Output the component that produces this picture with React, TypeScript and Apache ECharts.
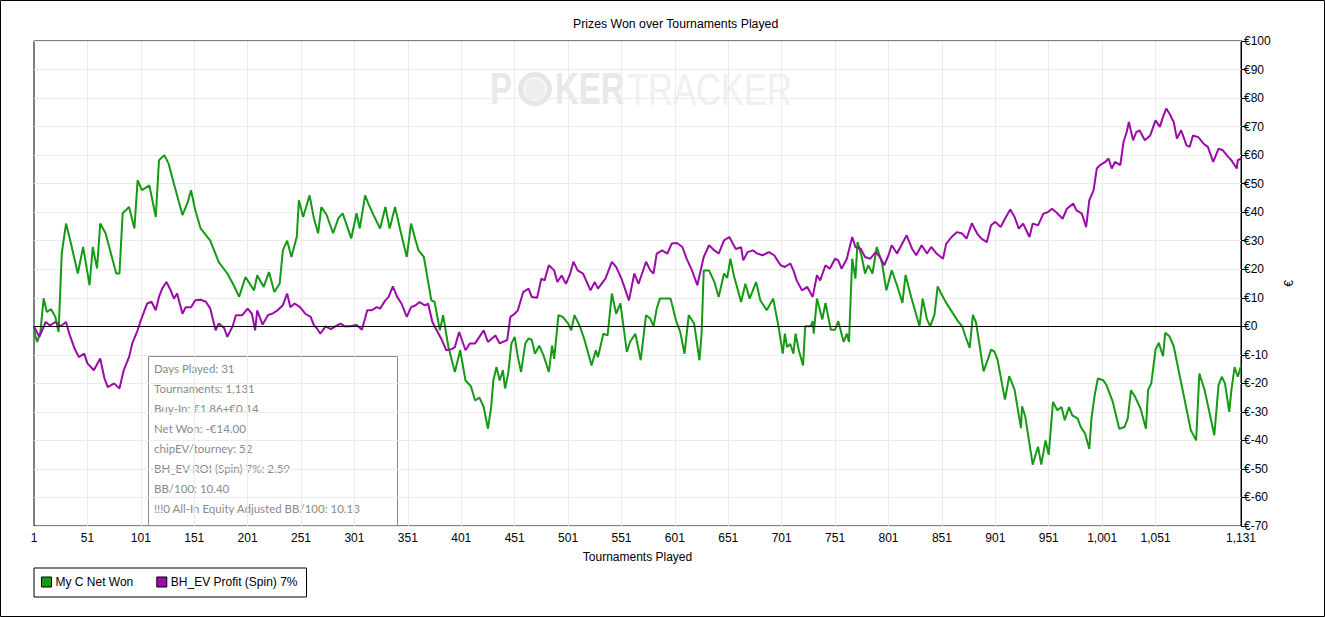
import React, { useEffect, useRef } from "react";
import * as echarts from "echarts";

const titleText = "Prizes Won over Tournaments Played";
const xAxisName = "Tournaments Played";
const yAxisName = "€";
const totalTournaments = 1131;

// [tournament number, € value]
const netWon: [number, number][] = [
  [1, 0], [2, -3], [4, -5.5], [7, -2], [10, 9.8], [13, 5], [17, 6], [21, 3.3], [24, -2], [27, 25.6], [31, 36], [35, 30],
  [42, 18.5], [47, 27.8], [53, 14.4], [56, 27.8], [60, 20.3], [63, 36], [68, 32.6], [78, 18.5], [81, 18.5], [84, 39.6],
  [90, 41.8], [95, 34.3], [98, 51.2], [102, 47.7], [109, 49.4], [115, 38.3], [118, 58.2], [123, 60], [127, 57], [132, 50],
  [140, 39], [145, 43.6], [148, 47.7], [152, 40.7], [157, 34.3], [166, 30], [174, 22.5], [182, 18.5], [188, 14.4],
  [193, 10.3], [199, 17.3], [207, 12.6], [210, 17.9], [216, 13.8], [221, 19], [226, 12], [231, 15], [234, 26.6],
  [238, 30], [242, 24.3], [247, 31.3], [249, 44.2], [253, 38.3], [259, 45.9], [263, 37.9], [267, 32.6], [270, 41.8],
  [275, 39], [281, 32.6], [286, 37.9], [290, 39.6], [298, 30.8], [303, 39.6], [306, 34.3], [311, 45.9], [314, 43],
  [319, 38.9], [325, 34.3], [330, 41.8], [334, 34.3], [339, 41.8], [344, 33.6], [350, 24.3], [354, 36], [358, 30.4],
  [361, 26.6], [366, 24.3], [373, 9.1], [376, 8.6], [381, -1.4], [384, 3.9], [389, -7.3], [395, -16], [400, -8.4],
  [405, -19], [410, -21], [414, -26], [418, -25], [422, -28.3], [426, -35.9], [429, -28.3], [431, -19], [434, -14.3],
  [437, -19], [440, -15.4], [442, -21.8], [445, -16.4], [448, -6], [451, -3.7], [454, -10.8], [457, -16], [461, -6],
  [464, -4.3], [467, -4.7], [470, -9.6], [474, -6.8], [478, -10.2], [480, -12.5], [483, -16], [486, -6.8], [488, -11.4],
  [492, 3.9], [496, 3.3], [501, 1], [504, -1.4], [507, 3.9], [512, 0], [516, -4.3], [523, -13.7], [527, -8.4],
  [529, -10.8], [534, -2.6], [538, -3.2], [542, 11.5], [546, 4.4], [550, 8], [556, -9], [559, -5.5], [564, -2.6],
  [569, -11.9], [574, 3.9], [578, 2.7], [581, 0], [584, 6.2], [587, 9.7], [597, 9.7], [602, 2.1], [606, -2], [610, -9.6],
  [614, 3.9], [619, 1], [624, -11.9], [626, -2.6], [628, 19.6], [633, 19.6], [638, 15.5], [642, 10.3], [647, 18.5],
  [650, 17], [653, 23.7], [656, 18.1], [663, 8.5], [667, 14.9], [671, 9.7], [677, 15.5], [681, 9.1], [687, 5.6],
  [693, 9.7], [698, 0], [702, -9.6], [704, -2.6], [706, -7.3], [709, -6.2], [712, -9.6], [714, -2.6], [717, -8.4],
  [721, -13.7], [723, 0], [728, 0], [730, 1.8], [731, -2.6], [734, 9.7], [739, 2.4], [742, 8.2], [747, -1.2], [751, -1.2],
  [754, 1.8], [759, -5.5], [762, -2.6], [764, -5.5], [767, 23.7], [770, 16.7], [772, 29.5], [776, 24.3], [779, 18.5],
  [782, 21.4], [786, 18.5], [790, 27.8], [795, 22], [799, 12.6], [804, 19.6], [809, 14.3], [814, 8.2], [817, 18],
  [822, 10.5], [830, 0], [833, 9.7], [837, 2.4], [840, 0], [844, 4], [847, 14], [850, 11.7], [855, 8.2], [861, 4.7],
  [866, 1.8], [870, 0], [873, -3.5], [877, -7.6], [880, 4], [883, 1.2], [890, -15.8], [894, -11.6], [897, -8.2],
  [900, -8.8], [903, -11.6], [910, -25.7], [914, -17.5], [919, -22.2], [925, -35.7], [926, -28], [929, -31.6],
  [936, -48.5], [939, -44.6], [941, -42.2], [944, -48.5], [948, -40], [951, -45], [955, -26.5], [959, -29.4],
  [963, -28.3], [966, -32.9], [970, -28.3], [973, -31.2], [978, -32.3], [981, -35.3], [985, -37.6], [989, -43],
  [991, -32.3], [994, -24.2], [997, -18.3], [1002, -18.9], [1005, -20.6], [1011, -26.5], [1017, -35.9], [1022, -35.3],
  [1025, -32.3], [1028, -22.4], [1032, -24.8], [1037, -28.9], [1042, -35.9], [1044, -22.4], [1047, -20], [1051, -8.2],
  [1054, -5.8], [1058, -10.5], [1060, -2.3], [1064, -3.5], [1068, -7], [1084, -36.4], [1089, -40], [1092, -16.6],
  [1097, -22.4], [1106, -38.2], [1110, -20.6], [1113, -17.7], [1116, -20], [1120, -30], [1122, -22.4], [1125, -14.3],
  [1128, -17.7], [1131, -14],
];

const bhEvProfit: [number, number][] = [
  [1, 0], [6, -3.7], [12, 1.5], [16, 0.3], [21, 1.5], [26, 0], [31, 1.5], [34, -2.6], [39, -7.8], [43, -10.8],
  [48, -9.6], [51, -13], [57, -15.4], [63, -11.3], [67, -18.3], [70, -21.3], [76, -20], [81, -21.8], [85, -15.4],
  [90, -10.8], [93, -6], [98, -1.4], [101, 2.1], [107, 8], [111, 8.6], [115, 5.6], [118, 10.3], [121, 13.2], [125, 15.5],
  [129, 12.6], [132, 9.7], [135, 11.5], [140, 4.4], [143, 6.7], [148, 6.7], [152, 9.1], [157, 9.3], [162, 8.6],
  [166, 6.2], [171, -1.4], [174, 1], [179, -0.6], [182, -3.7], [187, 0], [190, 3.9], [196, 3.9], [201, 6.2], [205, 4.4],
  [208, -1.4], [210, 5.6], [215, 0.6], [220, 3.9], [224, 4.4], [229, 5.6], [234, 7.4], [238, 11.5], [241, 6.7],
  [245, 8], [250, 6.7], [255, 4.4], [260, 3.3], [263, 0.4], [266, -0.8], [269, -2.6], [274, 0], [279, -1], [283, 0],
  [288, 0.9], [292, 0], [297, 0], [303, 0.5], [308, -1.2], [313, 5.6], [317, 5.6], [322, 6.7], [325, 6.2], [330, 9.1],
  [333, 10.3], [337, 14], [341, 10.3], [345, 8], [350, 3.3], [354, 6.7], [358, 7.3], [362, 8.5], [367, 7.3], [370, 7.9],
  [374, 1.5], [378, -1.4], [383, -4.9], [387, -8.4], [392, -8], [395, -7.3], [399, -2], [405, -8.4], [409, -6],
  [414, -6], [418, -3.7], [422, -1.4], [426, -5.5], [433, -3.2], [437, -6], [444, -4.8], [447, 3.3], [451, 4.4],
  [454, 5.6], [459, 12], [464, 13.2], [467, 10.3], [472, 10], [476, 16.7], [479, 16.1], [483, 21.4], [488, 19.6],
  [491, 15.5], [495, 17.8], [499, 14.9], [503, 18.5], [506, 22.6], [510, 19.6], [515, 18.5], [522, 12.6], [526, 15.5],
  [529, 13.2], [536, 16.7], [542, 22.6], [546, 20.8], [551, 16.7], [558, 9.1], [563, 18.5], [567, 14.9], [574, 22.6],
  [578, 19.6], [581, 18.5], [584, 25.5], [589, 26.6], [594, 25.5], [598, 29], [603, 29.2], [608, 27.8], [612, 23.7],
  [617, 19.6], [622, 14.4], [628, 24.3], [633, 28.4], [638, 26.6], [642, 25.5], [647, 30.1], [652, 31.3], [658, 27.1],
  [663, 27.7], [665, 23.1], [669, 26], [674, 26.6], [678, 25.5], [683, 24.9], [689, 26], [694, 24.9], [697, 23.1],
  [700, 21.4], [704, 20.8], [709, 22], [712, 19.6], [715, 16.1], [720, 12.6], [725, 13.8], [730, 10.3], [734, 17.9],
  [737, 16.1], [742, 21.4], [746, 20.2], [751, 23.7], [754, 23.1], [757, 20.2], [762, 23.7], [767, 31.3], [770, 27.8],
  [775, 27.2], [779, 24.3], [784, 23.7], [789, 26], [793, 24.3], [797, 21.4], [801, 24.9], [804, 28.4], [809, 25.5],
  [813, 28.4], [818, 31.9], [823, 27.2], [827, 24.9], [832, 28.4], [837, 25.5], [841, 27.8], [846, 25.5], [852, 23.7],
  [855, 28.9], [860, 31.3], [865, 33], [870, 32.5], [874, 30.7], [879, 36.1], [884, 32.5], [888, 30.7], [893, 29.5],
  [897, 35.4], [901, 36.6], [906, 34.8], [910, 37.7], [915, 40.9], [919, 38.3], [923, 34.2], [927, 36], [933, 31.3],
  [936, 36], [941, 35.4], [946, 39.5], [950, 40], [954, 41.2], [958, 40], [964, 37.7], [968, 41.2], [974, 43],
  [977, 40.6], [982, 39.5], [986, 34.8], [989, 44.2], [993, 47.7], [996, 55.3], [999, 56.5], [1004, 57.6], [1007, 58.8],
  [1010, 55.3], [1013, 57.6], [1018, 56.5], [1021, 64.6], [1024, 68.1], [1026, 71.6], [1030, 65.2], [1033, 68.1],
  [1036, 68.7], [1041, 65.2], [1046, 66.9], [1051, 72.2], [1055, 69.9], [1058, 73.4], [1061, 76.3], [1064, 74.6],
  [1068, 71.6], [1071, 65.8], [1075, 68.7], [1080, 63.4], [1083, 62.9], [1086, 66.9], [1091, 66.3], [1096, 64],
  [1100, 62.9], [1105, 57.6], [1110, 62.3], [1114, 61.7], [1119, 59.4], [1122, 58.2], [1127, 55.3], [1128, 58.2],
  [1131, 58.8],
];

const seriesNames = ["My C Net Won", "BH_EV Profit (Spin) 7%"];
const seriesColors = ["#149a14", "#9b0ba8"];

const infoLines = [
  "Days Played: 31",
  "Tournaments: 1,131",
  "Buy-In: €1.86+€0.14",
  "Net Won: -€14.00",
  "chipEV/tourney: 52",
  "BH_EV ROI (Spin) 7%: 2.59",
  "BB/100: 10.40",
  "!!!0 All-In Equity Adjusted BB/100: 10.13",
];

const categories: string[] = [];
for (let i = 1; i <= totalTournaments; i++) categories.push(i.toLocaleString("en-US"));

const toIdx = (pts: [number, number][]) => pts.map(([t, v]) => [t - 1, v]);

export default function App() {
  const ref = useRef<HTMLDivElement>(null);
  useEffect(() => {
    if (!ref.current) return;
    const chart = echarts.init(ref.current, null, { renderer: "svg" });
    const font = "'Liberation Sans', Arial, sans-serif";
    const infoTexts = infoLines.map((line, i) => ({
      type: "text",
      x: 154,
      y: 368 + i * 20,
      style: {
        text: line,
        fill: "#8a8a8a",
        font: "11.5px Lato, 'Noto Sans', sans-serif",
        verticalAlign: "middle",
      },
      silent: true,
    }));
    chart.setOption({
      animation: false,
      backgroundColor: "#fff",
      textStyle: { fontFamily: font },
      title: {
        text: titleText,
        left: 568,
        top: 13,
        textStyle: { fontSize: 12.3, fontWeight: "normal", color: "#000", fontFamily: font },
      },
      grid: {
        left: 34,
        right: 84,
        top: 41,
        bottom: 91,
        show: true,
        borderColor: "#000",
        borderWidth: 1,
        backgroundColor: "transparent",
      },
      legend: {
        left: 34,
        top: 568,
        orient: "horizontal",
        padding: [8, 9, 9, 7],
        itemGap: 23,
        itemWidth: 10,
        itemHeight: 10,
        icon: "rect",
        borderColor: "#000",
        borderWidth: 1,
        borderRadius: 0,
        itemStyle: { borderColor: "#000", borderWidth: 1 },
        textStyle: { fontSize: 12, color: "#000", fontFamily: font, padding: [0, 0, 0, -1] },
        data: seriesNames,
      },
      xAxis: {
        type: "category",
        data: categories,
        boundaryGap: false,
        name: xAxisName,
        nameLocation: "middle",
        nameGap: 25,
        nameTextStyle: { fontSize: 12, color: "#000", fontFamily: font },
        axisLine: { lineStyle: { color: "#000", width: 1 } },
        axisTick: { show: false },
        axisLabel: {
          interval: (i: number) => (i % 50 === 0 && i !== 1100) || i === totalTournaments - 1,
          color: "#000",
          fontSize: 12,
          margin: 6,
          fontFamily: font,
        },
        splitLine: {
          show: true,
          interval: (i: number) => i % 50 === 0 && i > 0 && i < 1100,
          lineStyle: { color: "#ebebeb", width: 1 },
        },
      },
      yAxis: {
        type: "value",
        position: "right",
        min: -70,
        max: 100,
        interval: 10,
        name: yAxisName,
        nameLocation: "middle",
        nameGap: 42,
        nameRotate: 90,
        nameTextStyle: { fontSize: 12, color: "#000", fontFamily: font },
        axisLine: { show: true, lineStyle: { color: "#000", width: 1 } },
        axisTick: { show: true, length: 4, lineStyle: { color: "#000" } },
        axisLabel: {
          formatter: (v: number) => "€" + v,
          color: "#000",
          fontSize: 12,
          margin: 3,
          fontFamily: font,
        },
        splitLine: { show: true, lineStyle: { color: "#ebebeb", width: 1 } },
      },
      graphic: [
        {
          type: "rect",
          shape: { x: 0.5, y: 0.5, width: 1324, height: 616 },
          style: { stroke: "#000", lineWidth: 1, fill: "none" },
          silent: true,
        },
        {
          type: "group",
          silent: true,
          z: -10,
          children: [
            {
              type: "text",
              x: 490,
              y: 89,
              scaleX: 0.75,
              style: {
                text: "P",
                fill: "#e8e8e8",
                font: "bold 44px 'Liberation Sans', Arial, sans-serif",
                verticalAlign: "middle",
              },
            },
            {
              type: "circle",
              shape: { cx: 535, cy: 89, r: 17 },
              style: { fill: "#e6e6e6" },
            },
            {
              type: "circle",
              shape: { cx: 535, cy: 89, r: 11 },
              style: { fill: "#eeeeee", stroke: "#f6f6f6", lineWidth: 2 },
            },
            {
              type: "text",
              x: 555,
              y: 89,
              scaleX: 0.75,
              style: {
                text: "KER",
                fill: "#e8e8e8",
                font: "bold 44px 'Liberation Sans', Arial, sans-serif",
                verticalAlign: "middle",
              },
            },
            {
              type: "text",
              x: 627,
              y: 89,
              scaleX: 0.785,
              style: {
                text: "TRACKER",
                fill: "#f0f0f0",
                font: "44px 'Liberation Sans', Arial, sans-serif",
                verticalAlign: "middle",
              },
            },
          ],
        },
        {
          type: "rect",
          shape: { x: 148.5, y: 356.5, width: 249, height: 169 },
          style: { fill: "none", stroke: "#8c8c8c", lineWidth: 1 },
          silent: true,
        },
        ...infoTexts,
      ],
      series: [
        {
          name: seriesNames[0],
          type: "line",
          data: toIdx(netWon),
          showSymbol: false,
          symbol: "none",
          color: seriesColors[0],
          lineStyle: { width: 2, color: seriesColors[0] },
          markLine: {
            silent: true,
            symbol: "none",
            label: { show: false },
            lineStyle: { color: "#000", width: 1, type: "solid" },
            data: [{ yAxis: 0 }],
          },
        },
        {
          name: seriesNames[1],
          type: "line",
          data: toIdx(bhEvProfit),
          showSymbol: false,
          symbol: "none",
          color: seriesColors[1],
          lineStyle: { width: 2, color: seriesColors[1] },
        },
      ],
    });
    return () => chart.dispose();
  }, []);
  return (
    <div
      ref={ref}
      style={{ position: "fixed", left: 0, top: 0, width: 1325, height: 617, background: "#fff" }}
    />
  );
}
